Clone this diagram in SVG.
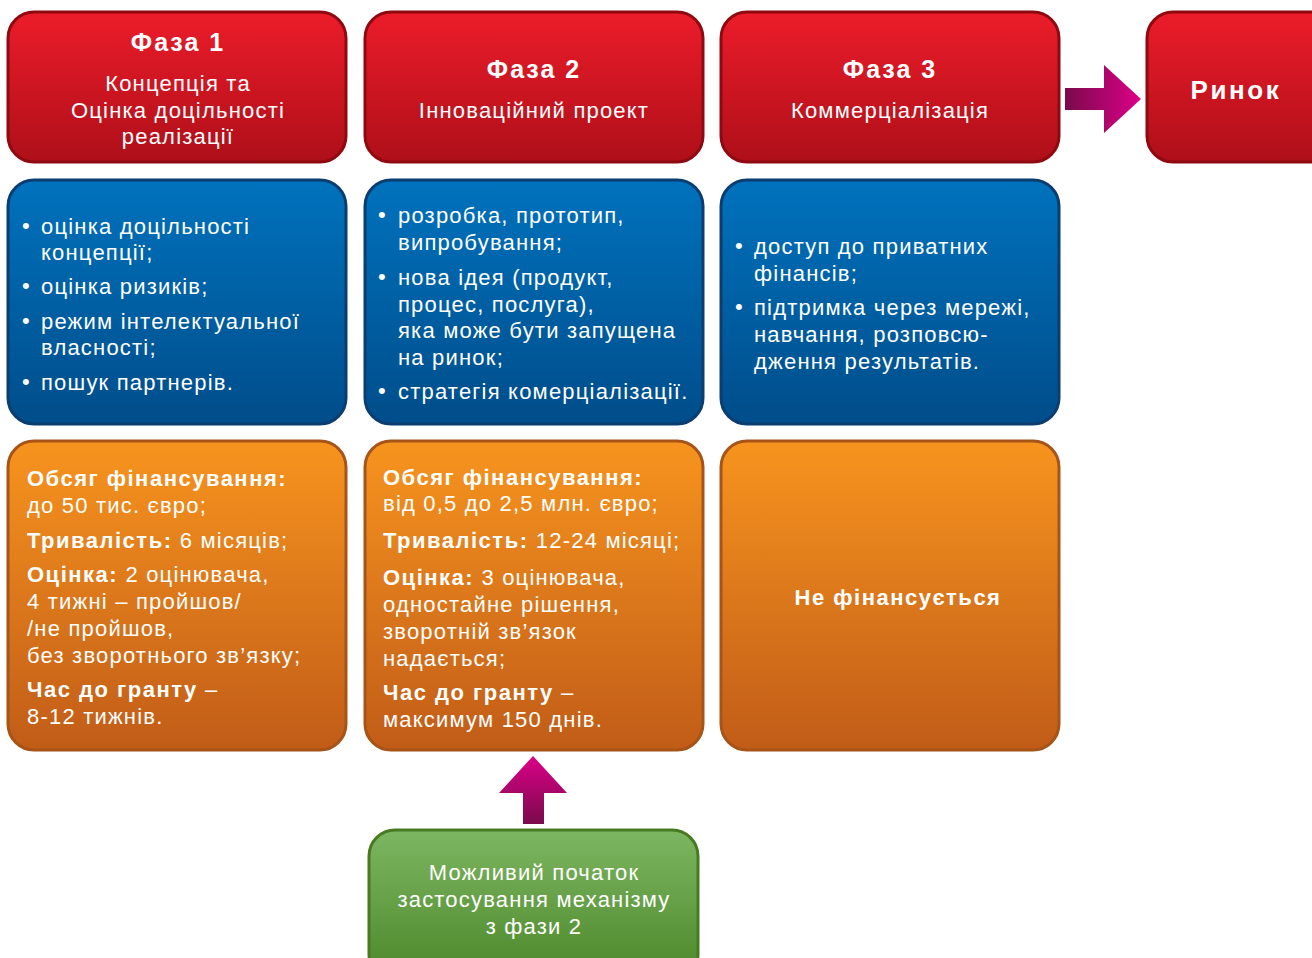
<svg xmlns="http://www.w3.org/2000/svg" width="1312" height="958" viewBox="0 0 1312 958">
<defs>
<linearGradient id="gRed" x1="0" y1="0" x2="0" y2="1"><stop offset="0" stop-color="#ec1c2a"/><stop offset="1" stop-color="#ae0f19"/></linearGradient>
<linearGradient id="gBlue" x1="0" y1="0" x2="0" y2="1"><stop offset="0" stop-color="#0072bd"/><stop offset="1" stop-color="#004d8a"/></linearGradient>
<linearGradient id="gOrange" x1="0" y1="0" x2="0" y2="1"><stop offset="0" stop-color="#f7941e"/><stop offset="1" stop-color="#c15c18"/></linearGradient>
<linearGradient id="gGreen" x1="0" y1="0" x2="0" y2="1"><stop offset="0" stop-color="#7db661"/><stop offset="1" stop-color="#4c872a"/></linearGradient>
<linearGradient id="gArrowR" x1="0" y1="0" x2="1" y2="0"><stop offset="0" stop-color="#7a0a4c"/><stop offset="1" stop-color="#dc0088"/></linearGradient>
<linearGradient id="gArrowU" x1="0" y1="0" x2="0" y2="1"><stop offset="0" stop-color="#dc0088"/><stop offset="1" stop-color="#7a0a4c"/></linearGradient>
</defs>
<style>
.red{fill:url(#gRed);stroke:#8e0a10;stroke-width:3}
.blue{fill:url(#gBlue);stroke:#0b3d70;stroke-width:3}
.orange{fill:url(#gOrange);stroke:#a65418;stroke-width:3}
.green{fill:url(#gGreen);stroke:#487a22;stroke-width:3}
text{font-family:"Liberation Sans",Arial,sans-serif;fill:#ffffff}
.h{font-size:25px;font-weight:bold;text-anchor:middle;letter-spacing:2px}
.s{font-size:22px;text-anchor:middle;letter-spacing:1.2px}
.t{font-size:22px;letter-spacing:1.2px}
.b{font-weight:bold;letter-spacing:1.5px}
.c{text-anchor:middle}
</style>
<rect width="1312" height="958" fill="#ffffff"/>

<g id="phase1">
<rect class="red" x="8" y="12" width="338" height="150" rx="26"/>
<text class="h" x="178" y="51">Фаза 1</text>
<text class="s" x="178" y="91">Концепція та</text>
<text class="s" x="178" y="118">Оцінка доцільності</text>
<text class="s" x="178" y="144">реалізації</text>
</g>
<g id="phase2">
<rect class="red" x="365" y="12" width="338" height="150" rx="26"/>
<text class="h" x="534" y="78">Фаза 2</text>
<text class="s" x="534" y="118">Інноваційний проект</text>
</g>
<g id="phase3">
<rect class="red" x="721" y="12" width="338" height="150" rx="26"/>
<text class="h" x="890" y="78">Фаза 3</text>
<text class="s" x="890" y="118">Коммерціалізація</text>
</g>
<g id="market">
<rect class="red" x="1147" y="12" width="200" height="150" rx="26"/>
<text class="h" x="1236" y="99" style="font-size:26px;letter-spacing:2.6px">Ринок</text>
</g>

<g id="blue1">
<rect class="blue" x="8" y="180" width="338" height="244" rx="26"/>
<g class="t">
<text x="22" y="233">•</text><text x="41" y="234">оцінка доцільності</text>
<text x="41" y="260">концепції;</text>
<text x="22" y="293">•</text><text x="41" y="294">оцінка ризиків;</text>
<text x="22" y="328">•</text><text x="41" y="329">режим інтелектуальної</text>
<text x="41" y="355">власності;</text>
<text x="22" y="389">•</text><text x="41" y="390">пошук партнерів.</text>
</g>
</g>
<g id="blue2">
<rect class="blue" x="365" y="180" width="338" height="244" rx="26"/>
<g class="t">
<text x="378" y="222">•</text><text x="398" y="223">розробка, прототип,</text>
<text x="398" y="250">випробування;</text>
<text x="378" y="284">•</text><text x="398" y="285">нова ідея (продукт,</text>
<text x="398" y="312">процес, послуга),</text>
<text x="398" y="338">яка може бути запущена</text>
<text x="398" y="365">на ринок;</text>
<text x="378" y="398">•</text><text x="398" y="399">стратегія комерціалізації.</text>
</g>
</g>
<g id="blue3">
<rect class="blue" x="721" y="180" width="338" height="244" rx="26"/>
<g class="t">
<text x="735" y="253">•</text><text x="754" y="254">доступ до приватних</text>
<text x="754" y="281">фінансів;</text>
<text x="735" y="314">•</text><text x="754" y="315">підтримка через мережі,</text>
<text x="754" y="342">навчання, розповсю-</text>
<text x="754" y="369">дження результатів.</text>
</g>
</g>

<g id="orange1">
<rect class="orange" x="8" y="441" width="338" height="309" rx="26"/>
<g class="t">
<text x="27" y="486" class="b">Обсяг фінансування:</text>
<text x="27" y="513">до 50 тис. євро;</text>
<text x="27" y="548"><tspan class="b">Тривалість:</tspan> 6 місяців;</text>
<text x="27" y="582"><tspan class="b">Оцінка:</tspan> 2 оцінювача,</text>
<text x="27" y="609">4 тижні – пройшов/</text>
<text x="27" y="636">/не пройшов,</text>
<text x="27" y="663">без зворотнього зв’язку;</text>
<text x="27" y="697"><tspan class="b">Час до гранту</tspan> –</text>
<text x="27" y="724">8-12 тижнів.</text>
</g>
</g>
<g id="orange2">
<rect class="orange" x="365" y="441" width="338" height="309" rx="26"/>
<g class="t">
<text x="383" y="485" class="b">Обсяг фінансування:</text>
<text x="383" y="511">від 0,5 до 2,5 млн. євро;</text>
<text x="383" y="548"><tspan class="b">Тривалість:</tspan> 12-24 місяці;</text>
<text x="383" y="585"><tspan class="b">Оцінка:</tspan> 3 оцінювача,</text>
<text x="383" y="612">одностайне рішення,</text>
<text x="383" y="639">зворотній зв’язок</text>
<text x="383" y="666">надається;</text>
<text x="383" y="700"><tspan class="b">Час до гранту</tspan> –</text>
<text x="383" y="727">максимум 150 днів.</text>
</g>
</g>
<g id="orange3">
<rect class="orange" x="721" y="441" width="338" height="309" rx="26"/>
<text class="t b c" x="898" y="605">Не фінансується</text>
</g>

<g id="green">
<rect class="green" x="369" y="830" width="329" height="150" rx="26"/>
<text class="s" x="534" y="880">Можливий початок</text>
<text class="s" x="534" y="907">застосування механізму</text>
<text class="s" x="534" y="934">з фази 2</text>
</g>

<g id="connectors">
<polygon fill="url(#gArrowR)" points="1065,88 1104,88 1104,65 1141,99 1104,133 1104,110 1065,110"/>
<polygon fill="url(#gArrowU)" points="533,756 567,793 544,793 544,824 523,824 523,793 499,793"/>
</g>
</svg>
